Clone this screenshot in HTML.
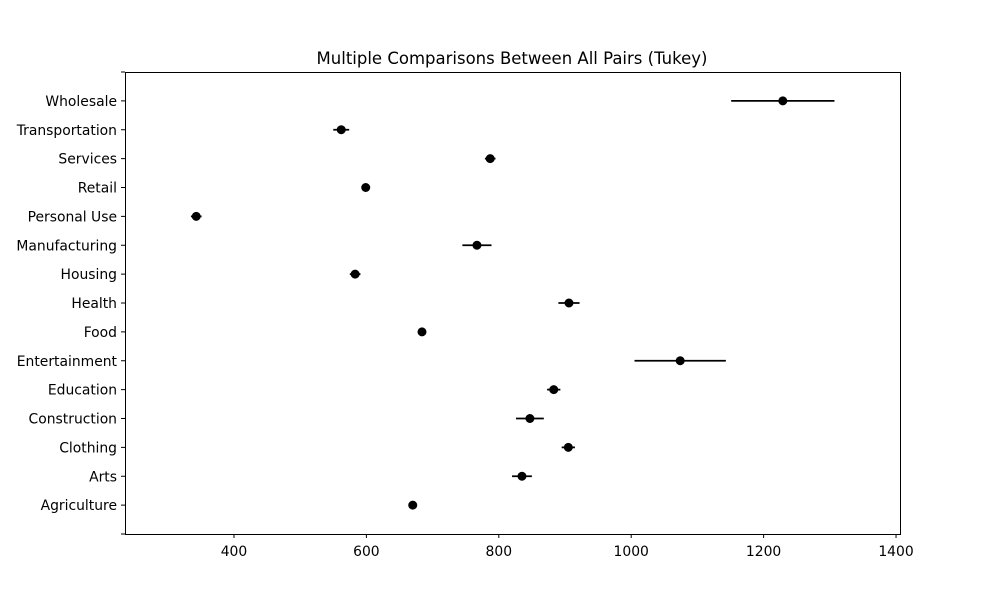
<!DOCTYPE html>
<html><head><meta charset="utf-8"><style>
body{margin:0;background:#fff;}
svg text{font-family:"DejaVu Sans","Liberation Sans",sans-serif;fill:#000;}
</style></head><body>
<svg id="chart" width="1000" height="600">
<rect width="1000" height="600" fill="#fff"/>
<text x="512" y="64" text-anchor="middle" font-size="16.5">Multiple Comparisons Between All Pairs (Tukey)</text>
<g id="marks"></g>
<rect x="125.5" y="72.5" width="775" height="462" fill="none" stroke="#000" stroke-width="1"/>
</svg>
<script>
const categories = ["Agriculture","Arts","Clothing","Construction","Education","Entertainment","Food","Health","Housing","Manufacturing","Personal Use","Retail","Services","Transportation","Wholesale"];
const means = [670,835,905,847,883,1074,684,906,583,767,343,599,787,562,1229];
const halfWidths = [6,15,10,21,10,69,2,16,8,22,8,3,8,12,78];
const xTicks = [400,600,800,1000,1200,1400];

const X0=125,X1=900,Y0=534,Y1=72,DMIN=235.4,DMAX=1406;
const xs=v=>X0+(v-DMIN)/(DMAX-DMIN)*(X1-X0);
const ys=i=>Y0+(i+1)/(categories.length+1)*(Y1-Y0);
const NS="http://www.w3.org/2000/svg";
const g=document.getElementById('marks');
function mk(t,a){const e=document.createElementNS(NS,t);for(const k in a)e.setAttribute(k,a[k]);g.appendChild(e);return e;}

xTicks.forEach(v=>{
  const l=mk('line',{x1:xs(v),x2:xs(v),y1:534,y2:538,stroke:'#000'});
  
  
  const t=mk('text',{x:xs(v),y:556,'text-anchor':'middle','font-size':13.9});
  t.textContent=v;
  
  
});
for(let i=-1;i<=categories.length;i++){
  const l=mk('line',{x1:121,x2:125,y1:ys(i),y2:ys(i),stroke:'#000'});
  
  
}
categories.forEach((c,i)=>{
  const y=ys(i);
  const t=mk('text',{x:117,y:y+5,'text-anchor':'end','font-size':13.9});
  t.textContent=c;
  
  
  const l=mk('line',{x1:xs(means[i]-halfWidths[i]),x2:xs(means[i]+halfWidths[i]),y1:y,y2:y,stroke:'#000','stroke-width':1.8});
  
  
  const p=mk('circle',{cx:xs(means[i]),cy:y,r:4.5,fill:'#000'});
  
  
});
</script>
</body></html>
